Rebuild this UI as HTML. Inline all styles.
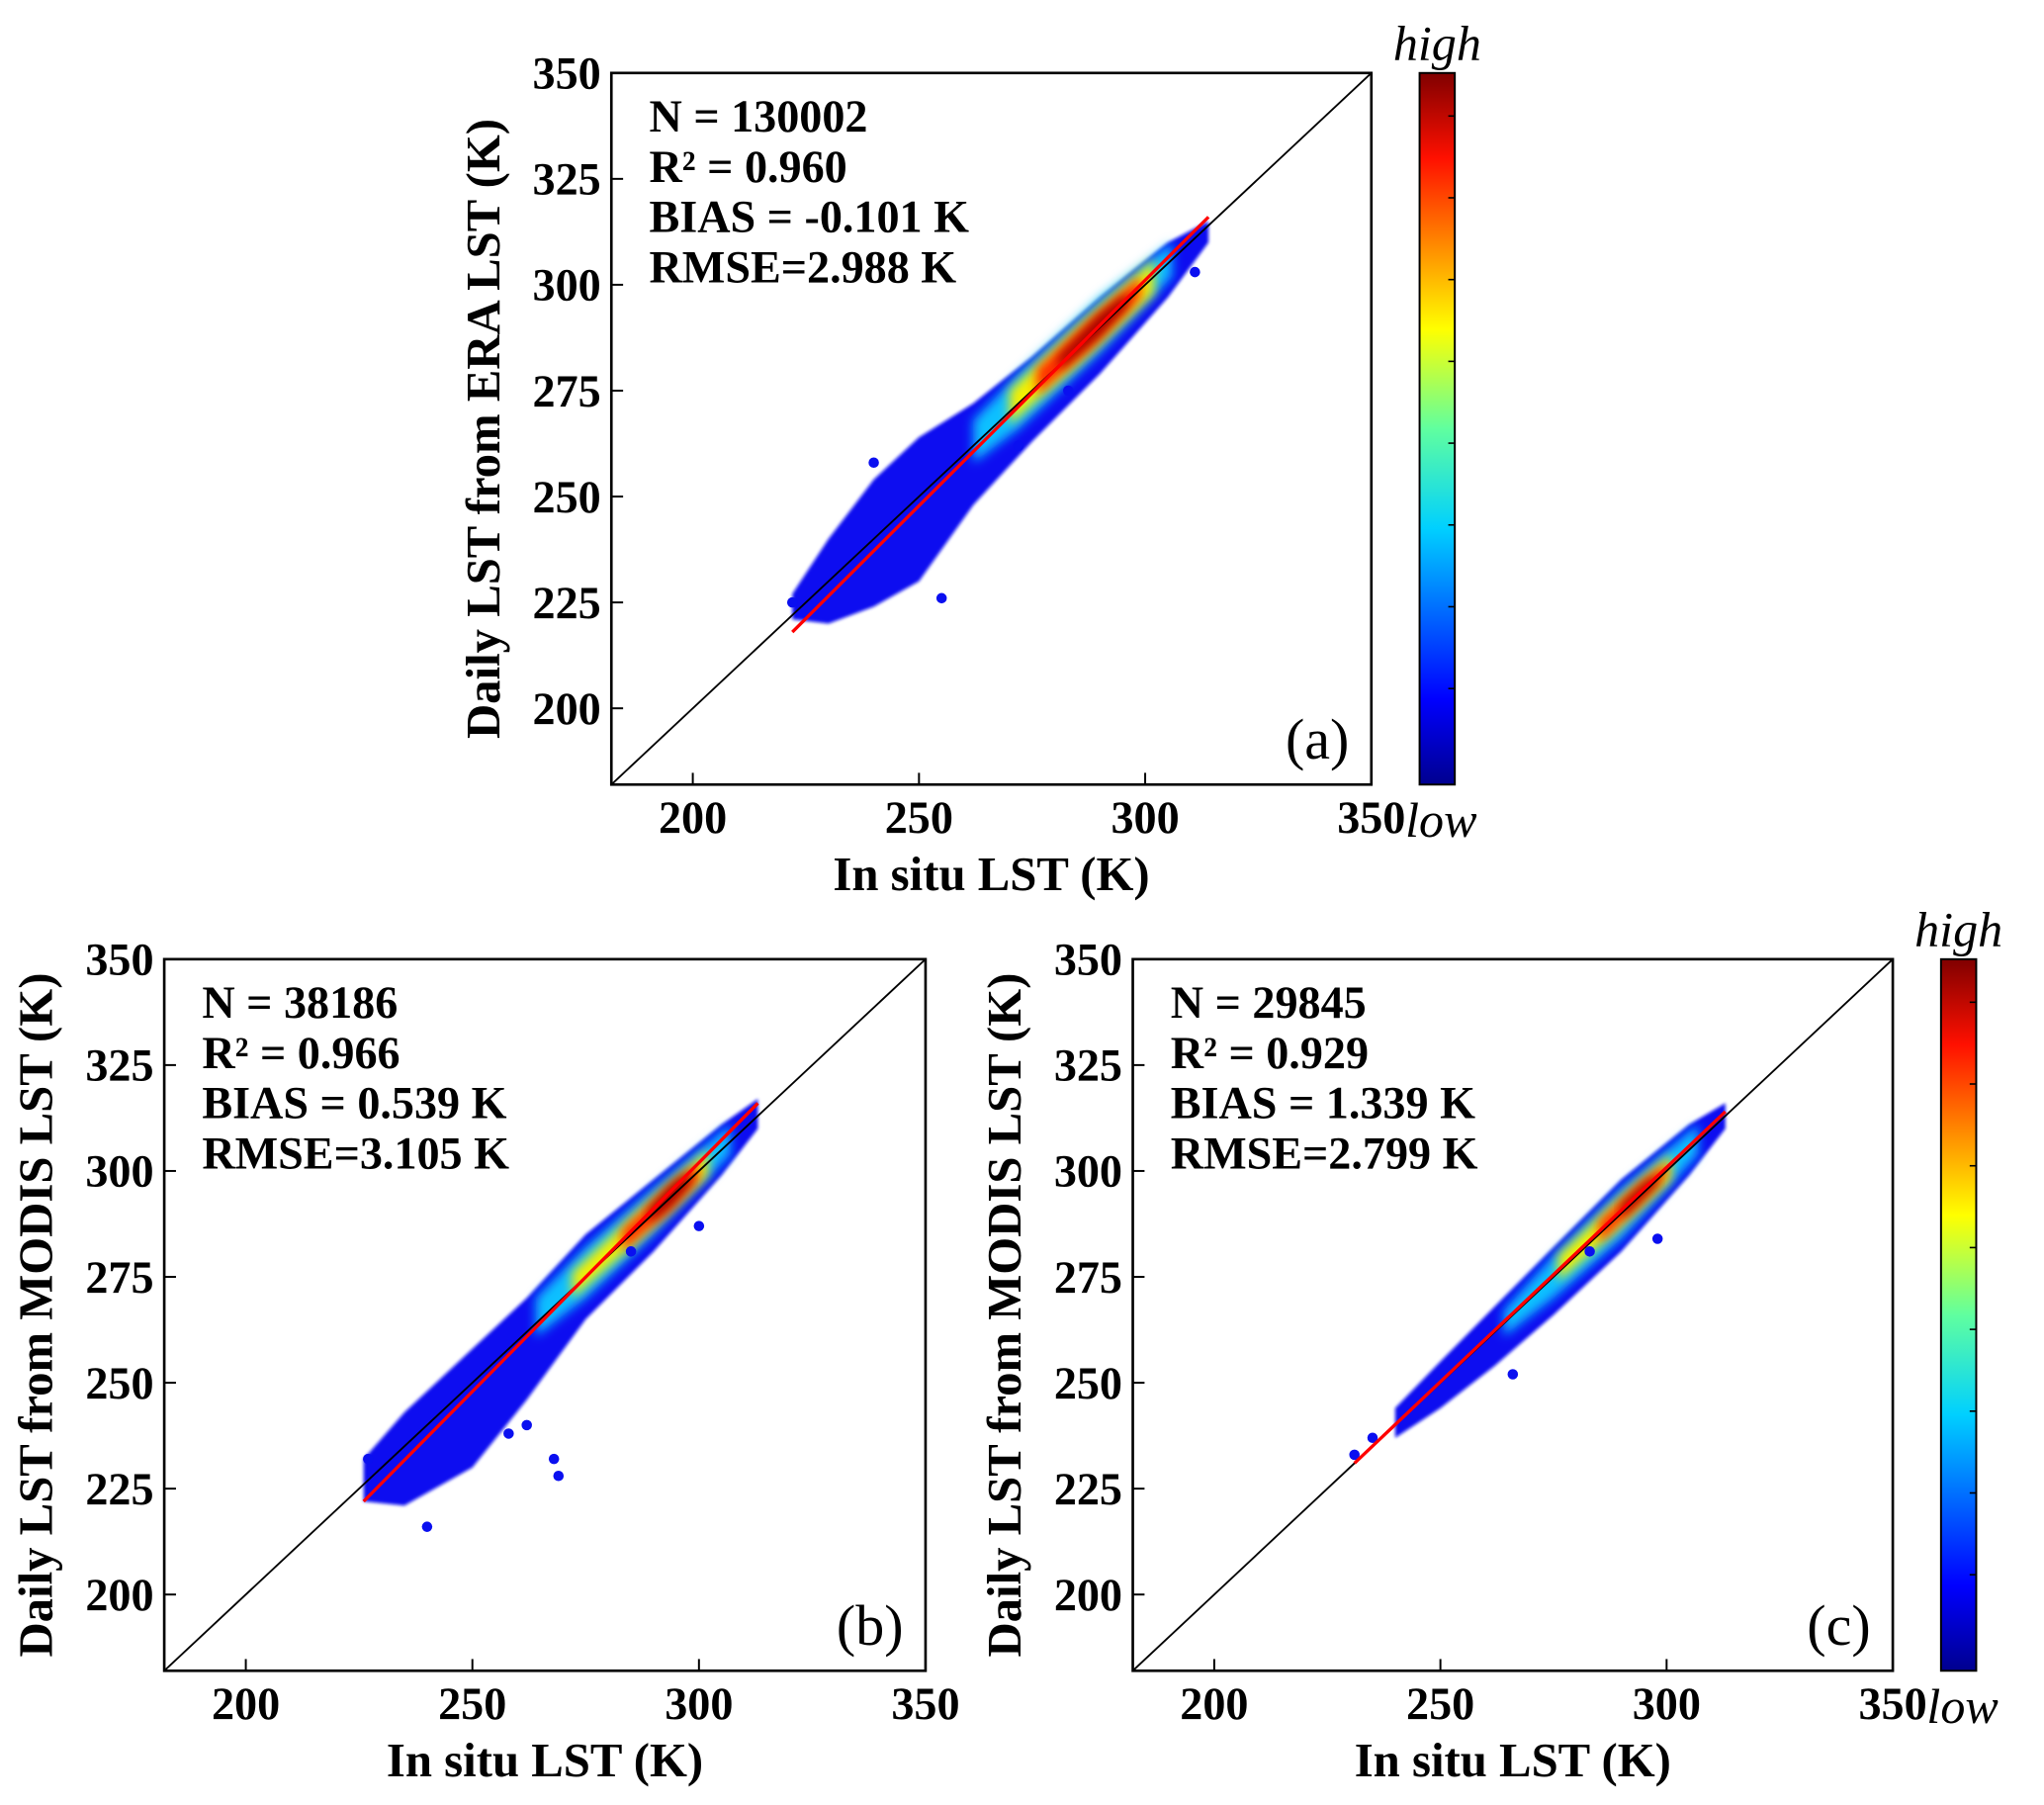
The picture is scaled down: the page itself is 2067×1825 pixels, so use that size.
<!DOCTYPE html>
<html><head><meta charset="utf-8"><style>
html,body{margin:0;padding:0;background:#fff}
svg{display:block}
text{font-family:"Liberation Serif","Times New Roman",serif}
.b{font-weight:bold}
</style></head><body>
<svg id="fig" width="2067" height="1825" viewBox="0 0 1568 1385" preserveAspectRatio="none">
<defs>
<linearGradient id="jet" x1="0" y1="1" x2="0" y2="0">
<stop offset="0" stop-color="#00008f"/><stop offset="0.12" stop-color="#0000ff"/><stop offset="0.36" stop-color="#00d0ff"/><stop offset="0.5" stop-color="#60ff9f"/><stop offset="0.64" stop-color="#ffff00"/><stop offset="0.88" stop-color="#ff1000"/><stop offset="1" stop-color="#800000"/>
</linearGradient>
<filter id="blur" x="-20%" y="-20%" width="140%" height="140%"><feGaussianBlur stdDeviation="4"/></filter>
<filter id="blur2" x="-20%" y="-20%" width="140%" height="140%"><feGaussianBlur stdDeviation="1.2"/></filter>
</defs>
</svg>
<script>
// Shared axis range
const axisMin = 182, axisMax = 350;
const ticks = [200, 250, 300, 350];
const yTicks = [200, 225, 250, 275, 300, 325, 350];
// Panel stats
const statsA = ["N = 130002", "R² = 0.960", "BIAS = -0.101 K", "RMSE=2.988  K"];
const statsB = ["N = 38186", "R² = 0.966", "BIAS = 0.539 K", "RMSE=3.105 K"];
const statsC = ["N = 29845", "R² = 0.929", "BIAS = 1.339 K", "RMSE=2.799 K"];
// Fit lines [x1, y1, x2, y2]
const fitA = [222, 218, 314, 316];
const fitB = [226, 222, 313, 316];
const fitC = [231, 231, 313, 314];
// Density cloud layers: rows of [x, dyLow, dyHigh]
const blueA = [[222,-1,5],[230,-10,10],[240,-16,14],[250,-20,14],[262,-14,10],[275,-12,8],[290,-11,7],[305,-8,5],[314,-4,1]];
const cyanA = [[262,-4,6],[272,-6,7],[290,-6,7],[306,-4,4]];
const yellowA = [[270,-3,5],[285,-4,5],[302,-4,4]];
const redA = [[276,-2,4],[288,-3,4],[299,-2,3]];
const darkA = [[281,-1,2],[290,-2,3],[296,-1,2]];
const blueB = [[226,-4,6],[235,-14,8],[250,-20,8],[262,-16,8],[275,-10,10],[290,-9,8],[305,-6,6],[313,-3,4]];
const cyanB = [[264,-3,6],[275,-5,7],[290,-5,6],[307,-3,4]];
const yellowB = [[272,-2,4],[285,-3,4],[302,-3,3]];
const redB = [[283,-2,3],[293,-3,3],[300,-2,2]];
const darkB = [[289,-1,2],[294,-2,3],[298,-1,2]];
const blueC = [[240,-3,4],[250,-6,5],[262,-8,6],[275,-9,7],[290,-9,8],[305,-6,6],[313,-3,3]];
const cyanC = [[264,-3,3],[275,-5,5],[290,-6,6],[307,-3,4]];
const yellowC = [[276,-2,4],[288,-3,4],[301,-3,3]];
const redC = [[285,-2,3],[294,-2,3],[300,-1,2]];
const darkC = [[290,-1,2],[295,-1,2],[298,-1,1]];
// Outlier points [x, y]
const outA = [[255,226],[222,225],[240,258],[272,262],[283,275],[311,303]];
const outB = [[269,228],[268,232],[262,240],[258,238],[240,216],[227,232],[300,287],[285,281]];
const outC = [[231,233],[235,237],[283,281],[298,284],[266,252]];

const NS = "http://www.w3.org/2000/svg";
const svg = document.getElementById('fig');
function mk(tag, attrs, parent){const e=document.createElementNS(NS,tag);for(const k in attrs)e.setAttribute(k,attrs[k]);(parent||svg).appendChild(e);return e;}

function panel(id, L, T, R, B, stats, fit, layers, outs, label, ytitle){
  const g = mk('g',{});
  
  
  const sx = v => L + (v-axisMin)/(axisMax-axisMin)*(R-L);
  const sy = v => B - (v-axisMin)/(axisMax-axisMin)*(B-T);
  const clip = mk('clipPath',{id:'clip'+id},g); mk('rect',{x:L,y:T,width:R-L,height:B-T},clip);
  const cg = mk('g',{'clip-path':'url(#clip'+id+')'},g);
  const cols = ['#0a0ff0','#10c0ff','#f5f000','#ff2a00','#a00000'];
  layers.forEach((lay,i)=>{
    const up = lay.map(r=>sx(r[0])+','+sy(r[0]+r[2]));
    const dn = lay.slice().reverse().map(r=>sx(r[0])+','+sy(r[0]+r[1]));
    const p = mk('polygon',{points:up.concat(dn).join(' '),fill:cols[i],filter: i===0?'url(#blur2)':'url(#blur)'},cg);
    
    
  });
  outs.forEach(o=>{
    const c = mk('circle',{cx:sx(o[0]),cy:sy(o[1]),r:4,fill:'#0a0ff0'},cg);
    
    
  });
  const d = mk('line',{x1:sx(axisMin),y1:sy(axisMin),x2:sx(axisMax),y2:sy(axisMax),stroke:'#000','stroke-width':1.4},cg);
  
  
  const f = mk('line',{x1:sx(fit[0]),y1:sy(fit[1]),x2:sx(fit[2]),y2:sy(fit[3]),stroke:'#ff0000','stroke-width':2.5},cg);
  
  
  const fr = mk('rect',{x:L,y:T,width:R-L,height:B-T,fill:'none',stroke:'#000','stroke-width':2},g);
  
  
  ticks.forEach(t=>{
    mk('line',{x1:sx(t),x2:sx(t),y1:B,y2:B-9,stroke:'#000','stroke-width':1.5},g);
    const tx = mk('text',{x:sx(t),y:B+37,'font-size':35,'text-anchor':'middle',class:'b'},g);
    tx.textContent = t;
    
    
  });
  yTicks.forEach(t=>{
    mk('line',{x1:L,x2:L+9,y1:sy(t),y2:sy(t),stroke:'#000','stroke-width':1.5},g);
    const tx = mk('text',{x:L-8,y:sy(t)+12,'font-size':35,'text-anchor':'end',class:'b'},g);
    tx.textContent = t;
    
    
  });
  stats.forEach((s,i)=>{
    const tx = mk('text',{x:L+29,y:T+45+i*38.5,'font-size':35,class:'b'},g);
    tx.textContent = s;
    
    
  });
  const lb = mk('text',{x:R-17,y:B-20,'font-size':44,'text-anchor':'end'},g);
  lb.textContent = label;
  
  
  const xt = mk('text',{x:(L+R)/2,y:B+81,'font-size':37,'text-anchor':'middle',class:'b'},g);
  xt.textContent = 'In situ LST (K)';
  
  
  const yx = L-86, yy=(T+B)/2;
  const yt = mk('text',{x:yx,y:yy,'font-size':37,'text-anchor':'middle',class:'b',transform:'rotate(-90 '+yx+' '+yy+')'},g);
  yt.textContent = ytitle;
  
  
}
function colorbar(id, L, T, R, B){
  const g = mk('g',{});
  
  
  mk('rect',{x:L,y:T,width:R-L,height:B-T,fill:'url(#jet)',stroke:'#000','stroke-width':1.5},g);
  for(let i=1;i<=8;i++){const y=B-(B-T)*(i/8.7)-(B-T)*0.02; mk('line',{x1:R-5,x2:R,y1:y,y2:y,stroke:'#000','stroke-width':1.2},g);}
  const h = mk('text',{x:(L+R)/2,y:T-10,'font-size':38,'font-style':'italic','text-anchor':'middle'},g);
  h.textContent='high';
  
  
  const l = mk('text',{x:(L+R)/2+3,y:B+40,'font-size':38,'font-style':'italic','text-anchor':'middle'},g);
  l.textContent='low';
  
  
}
panel('a',469,56,1052,602,statsA,fitA,[blueA,cyanA,yellowA,redA,darkA],outA,'(a)','Daily LST from ERA LST (K)');
panel('b',126,736,710,1282,statsB,fitB,[blueB,cyanB,yellowB,redB,darkB],outB,'(b)','Daily LST from MODIS LST (K)');
panel('c',869,736,1452,1282,statsC,fitC,[blueC,cyanC,yellowC,redC,darkC],outC,'(c)','Daily LST from MODIS LST (K)');
colorbar('a',1089,56,1116,602);
colorbar('c',1489,736,1516,1282);
</script>
</body></html>
